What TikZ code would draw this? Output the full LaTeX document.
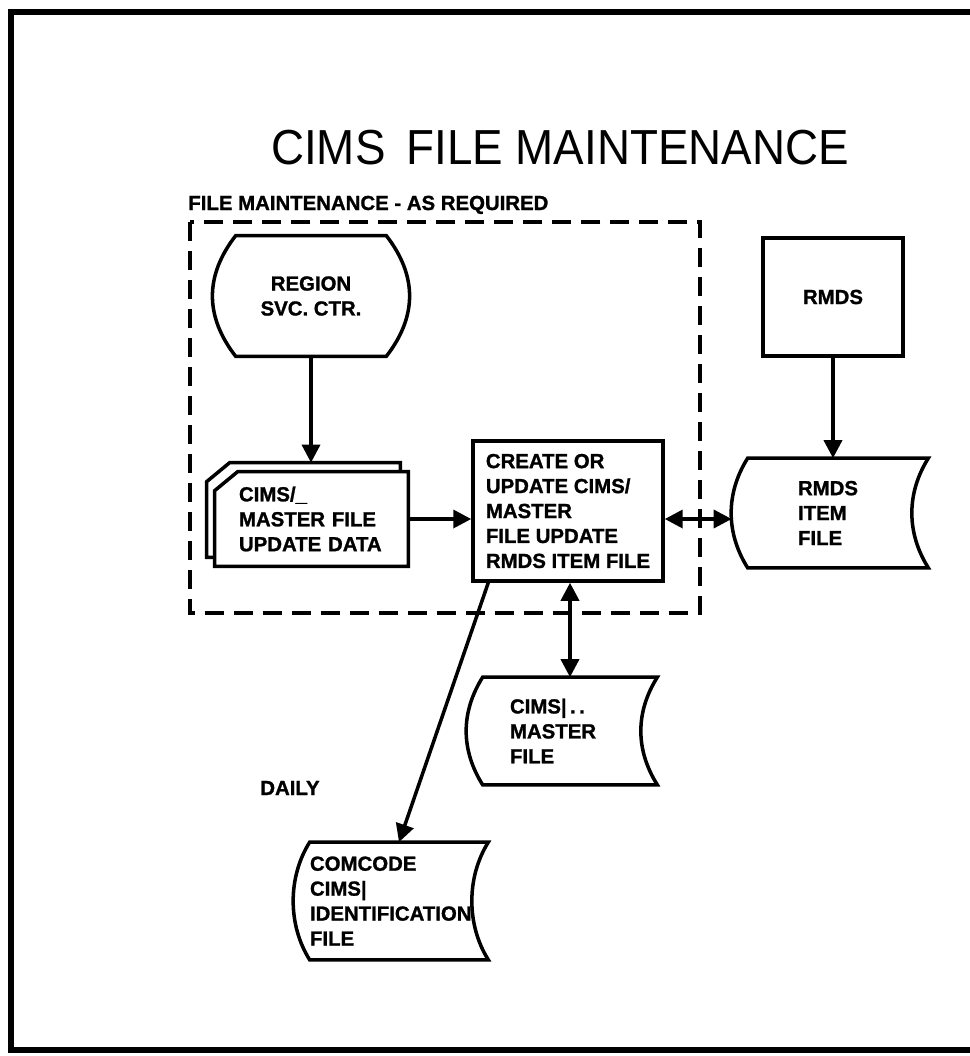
\documentclass[tikz,border=0pt]{standalone}
\usepackage{fontspec}
\newfontfamily\cimsfont[BoldFeatures={FakeBold=1.2}]{Liberation Sans}
\newfontfamily\titlefont[FakeStretch=0.93]{Liberation Sans}
\usetikzlibrary{arrows.meta,positioning,calc,backgrounds}

% outline of a stored-data file (both sides bent to the left)
\newcommand{\storedfile}[1]{%
  \draw[shapeline] (#1.north west) .. controls +(-22,35) and +(-22,-35) .. (#1.south west)
    -- (#1.south east) .. controls +(-22,-35) and +(-22,35) .. (#1.north east) -- cycle;}

\begin{document}
\begin{tikzpicture}[
    x=0.02cm, y=-0.02cm,
    >={Triangle[length=0.36cm,width=0.36cm]},
    txt/.style={font=\cimsfont\bfseries\fontsize{11.6}{14.2}\selectfont, align=left, inner sep=0pt},
    shapeline/.style={line width=2pt, line join=miter},
    arrowline/.style={line width=2pt},
    procbox/.style={txt, draw, shapeline, minimum width=3.8cm, minimum height=2.8cm},
    inbox/.style={txt, draw, shapeline, minimum width=2.8cm, minimum height=2.36cm, align=center}
]
    \useasboundingbox (0,0) rectangle (970,1056);

    % frame and title
    \draw[line width=3pt] (970,12) -- (11,12) -- (11,1050) -- (970,1050);
    \node[font=\titlefont\fontsize{28}{32}\selectfont] (title) at (560,148) {CIMS\ \,FILE MAINTENANCE};

    % file maintenance area
    \node[txt, anchor=base west] (asreq) at (188,210) {FILE MAINTENANCE - AS REQUIRED};
    \draw[shapeline, dash pattern=on 0.38cm off 0.2cm] (190,222) rectangle (700,613);

    \node[txt, align=center, minimum width=3cm, minimum height=2.4cm] (rgn) at (311,296) {REGION\\SVC. CTR.};
    \draw[shapeline] (rgn.north west) -- (rgn.north east)
        .. controls +(31,40) and +(31,-40) .. (rgn.south east) -- (rgn.south west)
        .. controls +(-31,-40) and +(-31,40) .. (rgn.north west) -- cycle;

    \node[txt, text width=2.9cm, minimum width=3.86cm, minimum height=1.88cm] (doc) at (311.5,519) {CIMS/\_\\MASTER FILE\\UPDATE DATA};
    \begin{scope}[on background layer]
        \draw[shapeline, fill=white] ($(doc.north west)+(-8,10)$) -- ($(doc.north west)+(15,-9)$)
            -- ($(doc.north east)+(-8,-9)$) -- ($(doc.south east)+(-8,-9)$) -- ($(doc.south west)+(-8,-9)$) -- cycle;
        \draw[shapeline, fill=white] ($(doc.north west)+(0,19)$) -- ($(doc.north west)+(23,0)$)
            -- (doc.north east) -- (doc.south east) -- (doc.south west) -- cycle;
    \end{scope}
    \coordinate (docback) at ($(doc.north)+(0,-9)$);

    \node[procbox] (proc) at (568,511) {CREATE OR\\UPDATE CIMS/\\MASTER\\FILE UPDATE\\RMDS ITEM FILE};

    % RMDS side
    \node[inbox] (rmds) at (833,297) {RMDS};
    \node[txt, text width=1.6cm, minimum width=3.6cm, minimum height=2.18cm] (rmdsfile) at (838,513) {RMDS\\ITEM\\FILE};
    \storedfile{rmdsfile}

    % files below
    \node[txt, text width=2.4cm, minimum width=3.48cm, minimum height=2.14cm] (masterfile) at (570,731) {CIMS|\,.\,.\\MASTER\\FILE};
    \storedfile{masterfile}
    \node[txt, text width=3.56cm, minimum width=3.56cm, minimum height=2.34cm] (comcode) at (399,901) {COMCODE\\CIMS|\\IDENTIFICATION\\FILE};
    \storedfile{comcode}
    \node[txt, anchor=base west] (daily) at (260,795) {DAILY};

    % connectors
    \draw[arrowline,->] (rgn.south) -- (rgn.south |- docback);
    \draw[arrowline,->] (doc.east) -- (doc.east -| proc.west);
    \draw[arrowline,<->] (proc.east |- doc.east) -- ($(rmdsfile.west |- doc.east)+(-16,0)$);
    \draw[arrowline,->] (rmds.south) -- (rmds.south |- rmdsfile.north);
    \draw[arrowline,<->] (masterfile.north |- proc.south) -- (masterfile.north);
    \draw[arrowline,->] ($(proc.south west)+(17,0)$) -- (comcode.north);
\end{tikzpicture}
\end{document}
